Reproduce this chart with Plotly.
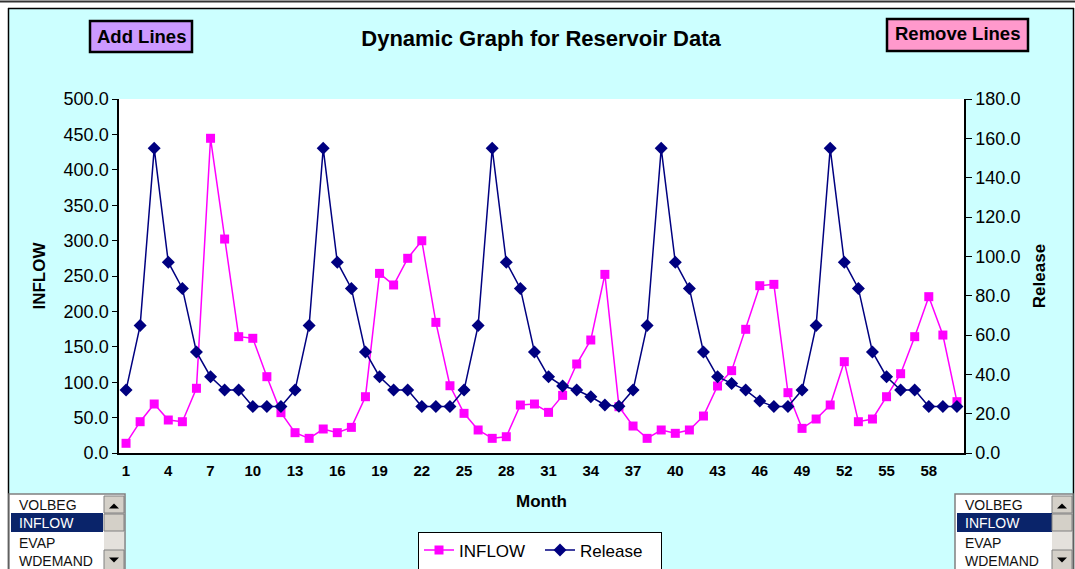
import plotly.graph_objects as go

# ---------------- data ----------------
months = list(range(1, 61))
inflow = [13.7, 44.2, 69.2, 46.6, 44.2, 91.4, 444.5, 302.2, 164.3, 162.0,
          107.8, 57.0, 28.7, 20.7, 33.9, 28.7, 36.2, 79.5, 253.7, 237.3,
          275.0, 299.8, 184.5, 95.0, 56.0, 32.5, 20.7, 23.0, 67.8, 69.2,
          57.4, 81.4, 125.7, 159.6, 252.3, 65.4, 38.1, 20.7, 32.5, 27.8,
          32.5, 52.2, 94.6, 116.3, 174.7, 236.3, 238.2, 85.2, 34.8, 48.0,
          67.8, 129.0, 44.2, 48.0, 79.5, 112.0, 164.3, 220.8, 166.6, 72.5]
release = [32.0, 64.8, 154.9, 97.0, 83.7, 51.4, 38.8, 32.0, 32.0, 23.6, 23.6, 23.6,
           32.0, 64.8, 154.9, 97.0, 83.7, 51.4, 38.8, 32.0, 32.0, 23.6, 23.6, 23.6,
           32.0, 64.8, 154.9, 97.0, 83.7, 51.4, 38.8, 34.1, 32.0, 28.6, 24.4, 23.8,
           32.0, 64.8, 154.9, 97.0, 83.7, 51.4, 38.8, 35.4, 32.0, 26.4, 23.6, 23.6,
           32.0, 64.8, 154.9, 97.0, 83.7, 51.4, 38.8, 32.0, 32.0, 23.6, 23.6, 23.6]
x_labels = months[::3]
list_items = ["VOLBEG", "INFLOW", "EVAP", "WDEMAND"]
selected_item = "INFLOW"
left_ticks = [v * 50 for v in range(11)]
right_ticks = [v * 20 for v in range(10)]

# ---------------- geometry helpers ----------------
W, H = 1075, 569
PL, PR, PT, PB = 119, 964, 99, 453


def X(px):
    return (px - PL) / (PR - PL)


def Y(py):
    return (PB - py) / (PB - PT)


FONT = "Liberation Sans, Arial, sans-serif"
CYAN = "#CCFFFF"

fig = go.Figure()
fig.add_trace(go.Scatter(
    x=months, y=inflow, name="INFLOW", mode="lines+markers",
    line=dict(color="#FF00FF", width=1.5),
    marker=dict(symbol="square", size=9, color="#FF00FF"),
    xaxis="x", yaxis="y"))
fig.add_trace(go.Scatter(
    x=months, y=release, name="Release", mode="lines+markers",
    line=dict(color="#000080", width=1.5),
    marker=dict(symbol="diamond", size=10, color="#000080"),
    xaxis="x", yaxis="y2"))

xr = [months[0] - 0.5, months[-1] + 0.5]
boundaries = [m - 0.5 for m in months] + [months[-1] + 0.5]

shapes = []
annotations = []


def rect(x0, y0, x1, y1, fill, line="rgba(0,0,0,0)", lw=0):
    shapes.append(dict(type="rect", xref="paper", yref="paper",
                       x0=X(x0), x1=X(x1), y0=Y(y0), y1=Y(y1),
                       fillcolor=fill, line=dict(color=line, width=lw), layer="above"))


def hline(x0, x1, y, color, lw):
    shapes.append(dict(type="line", xref="paper", yref="paper",
                       x0=X(x0), x1=X(x1), y0=Y(y), y1=Y(y),
                       line=dict(color=color, width=lw)))


def vline(x, y0, y1, color, lw):
    shapes.append(dict(type="line", xref="paper", yref="paper",
                       x0=X(x), x1=X(x), y0=Y(y0), y1=Y(y1),
                       line=dict(color=color, width=lw)))


def text(px, py, s, size, color="black", bold=False, xanchor="center"):
    annotations.append(dict(
        xref="paper", yref="paper", x=X(px), y=Y(py), showarrow=False,
        text=("<b>%s</b>" % s) if bold else s, xanchor=xanchor, yanchor="middle",
        font=dict(family=FONT, size=size, color=color)))


def tri(cx, cy, up):
    d = -1 if up else 1
    path = "M %f %f L %f %f L %f %f Z" % (
        X(cx - 5), Y(cy - 2.5 * d), X(cx + 5), Y(cy - 2.5 * d), X(cx), Y(cy + 2.5 * d))
    shapes.append(dict(type="path", xref="paper", yref="paper", path=path,
                       fillcolor="black", line=dict(color="black", width=0)))


# outer frame
rect(0, 0, W, 8, "white")
rect(0, 0, 8, H, "white")
rect(1073, 0, W, H, "white")
hline(0, W, 1.5, "#333333", 2)
hline(8, 1074, 8.5, "black", 1.5)
vline(8.5, 8, H, "black", 1.5)
vline(1073.5, 8, H, "black", 1.5)

# buttons
rect(90, 21, 192, 52, "#CC99FF", "black", 2.5)
text(141, 36, "Add Lines", 18.5, bold=True)
rect(887, 19, 1028, 51, "#FF99CC", "black", 2.5)
text(957.5, 34, "Remove Lines", 18.5, bold=True)


def listbox(x0, x1, hx1, sx0):
    rect(x0, 494, x1, H + 6, "white", "#808080", 1.5)
    rect(x0 + 2, 513, hx1, 532, "#0A246A")
    ys = [505, 523, 543, 561]
    for item, yy in zip(list_items, ys):
        text(x0 + 8, yy, item, 14, color="white" if item == selected_item else "#111111",
             xanchor="left")
    rect(sx0, 496, sx0 + 20, H + 4, "#E4E1DC")
    rect(sx0, 496, sx0 + 20, 513, "#D4D0C8", "#808080", 1)
    rect(sx0, 514, sx0 + 20, 531, "#D4D0C8", "#808080", 1)
    rect(sx0, 550, sx0 + 20, H + 4, "#D4D0C8", "#808080", 1)
    tri(sx0 + 10, 506, True)
    tri(sx0 + 10, 560, False)


listbox(9, 125, 103, 104)
listbox(955, 1073, 1052, 1052)

fig.update_layout(
    width=W, height=H,
    margin=dict(l=PL, r=W - PR, t=PT, b=H - PB, autoexpand=False),
    paper_bgcolor=CYAN, plot_bgcolor="white",
    font=dict(family=FONT, color="black"),
    title=dict(text="<b>Dynamic Graph for Reservoir Data</b>", x=541 / W, xanchor="center",
               y=1 - 38 / H, yanchor="middle", font=dict(size=22, family=FONT)),
    showlegend=True,
    legend=dict(orientation="h", x=X(540), xanchor="center", y=Y(550.5), yanchor="middle",
                bgcolor="white", bordercolor="black", borderwidth=1,
                font=dict(size=17, family=FONT), itemwidth=30, tracegroupgap=0,
                entrywidth=76, entrywidthmode="pixels"),
    xaxis=dict(range=xr, tickmode="array", tickvals=x_labels,
               ticktext=[str(v) for v in x_labels], ticks="", showgrid=False,
               zeroline=False, showline=True, linecolor="black", linewidth=1.5,
               tickfont=dict(size=15, family=FONT, weight="bold"), ticklabelstandoff=3,
               title=dict(text="<b>Month</b>", font=dict(size=17), standoff=17)),
    xaxis2=dict(overlaying="x", anchor="y", side="top", range=xr, showgrid=False,
                zeroline=False, showline=True, linecolor="#999999", linewidth=1.5,
                ticks="", showticklabels=False),
    xaxis3=dict(overlaying="x", anchor="y", side="bottom", range=xr, showgrid=False,
                zeroline=False, showline=False, tickmode="array", tickvals=boundaries,
                ticks="outside", ticklen=4, tickwidth=1, tickcolor="black",
                showticklabels=False),
    xaxis4=dict(overlaying="x", anchor="y", side="bottom", range=xr, showgrid=False,
                zeroline=False, showline=False, tickmode="array", tickvals=boundaries,
                ticks="inside", ticklen=4, tickwidth=1, tickcolor="black",
                showticklabels=False),
    yaxis=dict(range=[0, 500], tickmode="array", tickvals=left_ticks, tickformat=".1f",
               ticks="outside", ticklen=5, tickwidth=1, tickcolor="black",
               showgrid=False, zeroline=False, showline=True, linecolor="black",
               linewidth=1.5, tickfont=dict(size=18, family=FONT),
               title=dict(text="<b>INFLOW</b>", font=dict(size=17), standoff=14)),
    yaxis2=dict(range=[0, 180], overlaying="y", side="right", anchor="x",
                tickmode="array", tickvals=right_ticks, tickformat=".1f",
                ticks="outside", ticklen=6, tickwidth=1, tickcolor="black",
                showgrid=False, zeroline=False, showline=True, linecolor="black",
                linewidth=1.5, tickfont=dict(size=18, family=FONT),
                title=dict(text="<b>Release</b>", font=dict(size=17), standoff=14)),
    yaxis3=dict(range=[0, 500], overlaying="y", side="left", anchor="x",
                tickmode="array", tickvals=left_ticks, ticks="inside", ticklen=5,
                tickwidth=1, tickcolor="black", showticklabels=False,
                showgrid=False, zeroline=False, showline=False),
    yaxis4=dict(range=[0, 180], overlaying="y", side="right", anchor="x",
                tickmode="array", tickvals=right_ticks, ticks="inside", ticklen=6,
                tickwidth=1, tickcolor="black", showticklabels=False,
                showgrid=False, zeroline=False, showline=False),
    shapes=shapes, annotations=annotations,
)

fig.write_html("out.html", config={"displayModeBar": False},
               post_script="document.body.style.margin='0';document.body.style.overflow='hidden';")
